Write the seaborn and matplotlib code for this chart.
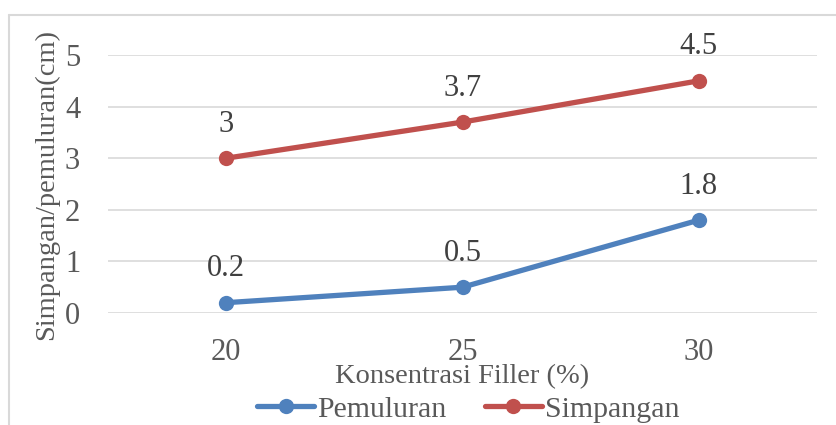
import matplotlib
matplotlib.use("Agg")
import matplotlib.pyplot as plt
import seaborn as sns
import pandas as pd
from matplotlib.lines import Line2D

# Data
konsentrasi = [20, 25, 30]
pemuluran = [0.2, 0.5, 1.8]
simpangan = [3.0, 3.7, 4.5]
series_names = ["Pemuluran", "Simpangan"]
colors = ["#4F81BD", "#C0504D"]

df = pd.DataFrame({
    "Konsentrasi": konsentrasi * 2,
    "Nilai": pemuluran + simpangan,
    "Seri": [series_names[0]] * 3 + [series_names[1]] * 3,
})

sns.set_style("white")
plt.rcParams["font.family"] = ["Liberation Serif", "DejaVu Serif"]

fig = plt.figure(figsize=(8.36, 4.25), dpi=100)
ax = fig.add_axes([108 / 836, 1 - 313 / 425, (817 - 108) / 836, (313 - 55) / 425])

# outer chart frame (only top and left edges fall inside the image)
fig.add_artist(Line2D([9 / 836, 9 / 836], [0, 1 - 15 / 425], transform=fig.transFigure,
                      color="#D9D9D9", lw=1.5))
fig.add_artist(Line2D([9 / 836, 1], [1 - 15 / 425, 1 - 15 / 425], transform=fig.transFigure,
                      color="#D9D9D9", lw=1.5))

sns.lineplot(data=df, x="Konsentrasi", y="Nilai", hue="Seri", palette=colors,
             marker="o", markersize=11, markeredgewidth=0, linewidth=3.8,
             ax=ax, legend=False, clip_on=False, zorder=3)

ax.set_xlim(17.5, 32.5)
ax.set_ylim(0, 5)
ax.set_xticks(konsentrasi)
ax.set_yticks(range(0, 6))
ax.yaxis.grid(True, color="#D9D9D9", lw=1.2)
ax.set_axisbelow(True)
for s in ax.spines.values():
    s.set_visible(False)
ax.tick_params(axis="both", length=0, labelsize=22, labelcolor="#595959")
ax.tick_params(axis="y", pad=20)
ax.tick_params(axis="x", pad=18)

ax.set_xlabel("Konsentrasi Filler (%)", fontsize=20.5, color="#595959", labelpad=-2)
ax.set_ylabel("Simpangan/pemuluran(cm)", fontsize=20.5, color="#595959", labelpad=4)

# value labels above each point
for vals in (pemuluran, simpangan):
    for x, v in zip(konsentrasi, vals):
        ax.annotate(f"{v:g}", (x, v), xytext=(0, 14), textcoords="offset points",
                    ha="center", va="bottom", fontsize=22, color="#404040",
                    annotation_clip=False)

handles = [Line2D([], [], color=c, lw=3.8, marker="o", markersize=11, markeredgewidth=0)
           for c in colors]
fig.legend(handles, series_names, loc="lower center", bbox_to_anchor=(0.56, -0.058),
           ncol=2, frameon=False, fontsize=21.5, handlelength=1.9, handletextpad=0.1,
           columnspacing=1.3, labelcolor="#595959")

fig.savefig("out.png", dpi=100)
